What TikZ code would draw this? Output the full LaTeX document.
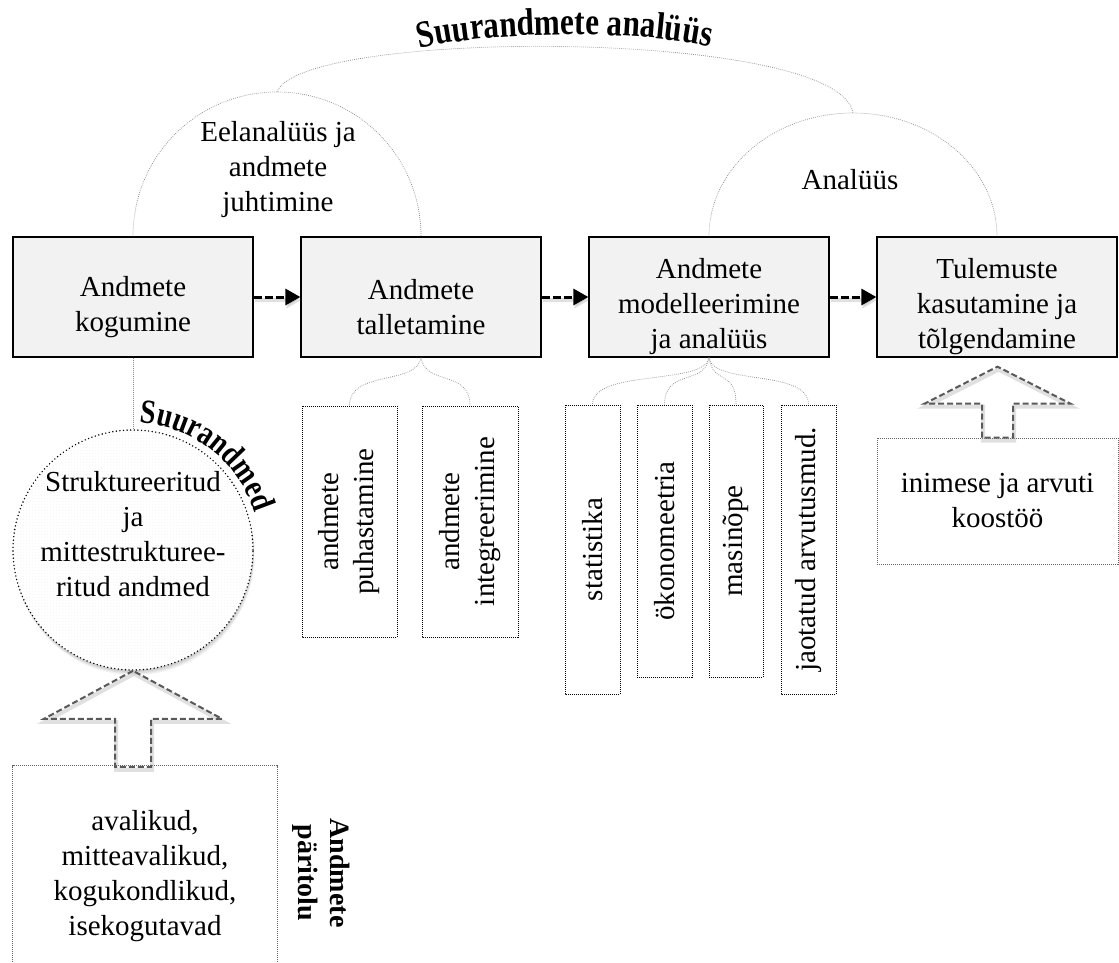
\documentclass[tikz,border=0pt]{standalone}
\usepackage{fontspec}
\setmainfont{Liberation Serif}
\newfontfamily\arcfont[FakeStretch=0.82]{Liberation Serif}
\usetikzlibrary{arrows.meta,decorations.text,patterns,calc}

\begin{document}
\begin{tikzpicture}[x=1pt,y=-1pt,
  every node/.style={font=\fontsize{29}{35}\selectfont, align=center, inner sep=0pt},
  stage/.style={draw=black, line width=1.3pt, fill=black!5, text height=75pt,
    minimum width=240pt, minimum height=120pt},
  stage3/.style={stage, text height=110pt},
  flow/.style={line width=3pt, dash pattern=on 8pt off 3pt,
    -{Triangle[length=15pt,width=16pt]},
    preaction={draw=black!35, opacity=0.35, line width=4pt, solid,
      transform canvas={shift={(1pt,-3pt)}}}},
  link/.style={draw=black!45, line width=0.7pt, dash pattern=on 0.8pt off 1.2pt},
  subbox/.style={draw=black, line width=0.8pt, dash pattern=on 1pt off 1pt,
    fill=white, rotate=90},
  srcbox/.style={draw=black!60, line width=0.7pt, dash pattern=on 1pt off 1pt},
  blockarrow/.style={draw=black!65, line width=2pt, dash pattern=on 6pt off 3pt,
    line join=miter,
    preaction={draw=black!30, opacity=0.4, line width=4pt, solid,
      transform canvas={shift={(1pt,-3pt)}}}},
  bigdata/.style={circle, minimum size=240pt, draw=black, line width=1.6pt,
    dash pattern=on 0pt off 3.6pt, line cap=round,
    preaction={fill=black, opacity=0.07, transform canvas={shift={(0.5pt,-2pt)}}},
    preaction={fill=black, opacity=0.07, transform canvas={shift={(1pt,-3.5pt)}}},
    preaction={fill=black, opacity=0.06, transform canvas={shift={(1.5pt,-5pt)}}},
    preaction={fill=white},
    pattern=north east lines, pattern color=black!14},
]
\useasboundingbox (0,0) rectangle (1119,963);
\clip (0,0) rectangle (1119,963);

% process stages
\node[stage] (b1) at (133,297) {Andmete\\kogumine};
\node[stage] (b2) at (421,297) {Andmete\\talletamine};
\node[stage3] (b3) at (709,297) {Andmete\\modelleerimine\\ja analüüs};
\node[stage3] (b4) at (997,297) {Tulemuste\\kasutamine ja\\tõlgendamine};

\draw[flow] (b1.east) -- (b2.west);
\draw[flow] (b2.east) -- (b3.west);
\draw[flow] (b3.east) -- (b4.west);

% phase arches above the stages
\coordinate (pk1) at (277,92);
\coordinate (pk2) at (853,113);
\draw[link] (b1.north) .. controls +(0,-80) and +(-80,0) .. (pk1)
  .. controls +(80,0) and +(0,-80) .. (b2.north);
\draw[link] (b3.north) .. controls +(0,-68) and +(-80,0) .. (pk2)
  .. controls +(80,0) and +(0,-68) .. (b4.north);
\draw[link] (pk1) .. controls (300,28) and (840,28) .. (pk2);

\node (pre) at (278,170) {Eelanalüüs ja\\andmete\\juhtimine};
\node (ana) at (850,180) {Analüüs};
\path[decorate, decoration={text along path, text align=center,
  text={|\fontsize{38}{38}\arcfont\bfseries|Suurandmete analüüs}}]
  (400,56) .. controls (458,28) and (672,28) .. (730,53);

% storage methods
\node[subbox, minimum width=231pt, minimum height=95pt] (ca) at (349.5,521.5) {andmete\\puhastamine};
\node[subbox, minimum width=231pt, minimum height=96pt] (cb) at (470,521.5) {andmete\\integreerimine};
\draw[link] (b2.south) .. controls +(-4,28) and +(0,-36) .. (ca.east);
\draw[link] (b2.south) .. controls +(4,28) and +(0,-36) .. (cb.east);

% analysis methods
\node[subbox, minimum width=289pt, minimum height=55pt] (c1) at (592.5,549.5) {statistika};
\node[subbox, minimum width=272pt, minimum height=55pt] (c2) at (664.5,541) {ökonomeetria};
\node[subbox, minimum width=272pt, minimum height=54pt] (c3) at (736,541) {masinõpe};
\node[subbox, minimum width=289pt, minimum height=55pt] (c4) at (808.5,549.5) {jaotatud arvutusmud.};
\foreach \c/\s in {c1/-4,c2/-4,c3/4,c4/4}
  \draw[link] (b3.south) .. controls +(\s,28) and +(0,-36) .. (\c.east);

% big data circle
\node[bigdata] (circ) at (133,550) {};
\node (circtxt) at (133,534) {Struktureeritud\\ja\\mittestrukturee-\\ritud andmed};
\draw[link] (b1.south) -- (circ.north);
\path[decorate, decoration={text along path, text align=left,
  text={|\fontsize{34}{34}\arcfont\bfseries|Suurandmed}}]
  ($(circ.center)+(87:127pt)$) arc[start angle=87, end angle=-15, radius=127pt];

% data origin
\node[minimum width=264pt, minimum height=220pt] (src) at (145,876)
  {avalikud,\\mitteavalikud,\\kogukondlikud,\\isekogutavad};
\draw[srcbox] (src.south west) -- (src.north west) -- (src.north east) -- (src.south east);
\node[font=\fontsize{28}{32}\bfseries\selectfont, rotate=-90] (orig) at (321,873) {Andmete\\päritolu};
\draw[blockarrow] (circ.south) -- ++(-89,48) -- ++(71,0) -- ++(0,48) -- ++(36,0)
  -- ++(0,-48) -- ++(71,0) -- cycle;

% human-computer cooperation
\node[srcbox, minimum width=241pt, minimum height=126pt] (coop) at (997.5,501) {inimese ja arvuti\\koostöö};
\draw[blockarrow] (coop.north) ++(-15.5,0) -- ++(0,-34) -- ++(-57.5,0) -- ++(73,-37)
  -- ++(73,37) -- ++(-57.5,0) -- ++(0,34) -- cycle;
\end{tikzpicture}
\end{document}
